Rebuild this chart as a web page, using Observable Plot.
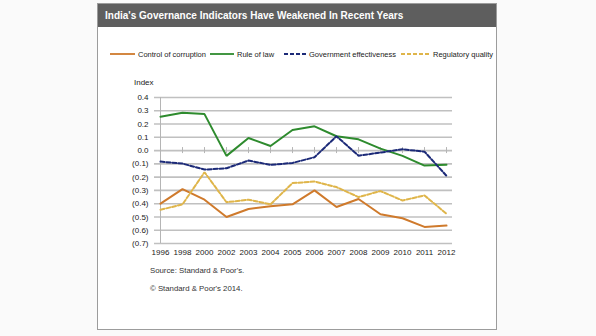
<!DOCTYPE html>
<html>
<head>
<meta charset="utf-8">
<script src="https://cdn.jsdelivr.net/npm/d3@7"></script>
<script src="https://cdn.jsdelivr.net/npm/@observablehq/plot@0.6"></script>
<style>
  html, body { margin: 0; padding: 0; }
  body { width: 596px; height: 336px; background: #fafafa; position: relative; overflow: hidden;
         font-family: "Liberation Sans", Arial, sans-serif; }
  #box { position: absolute; left: 97px; top: 3px; width: 398px; height: 325px; background: #fff;
         border: 1px solid #9c9c9c; }
  #titlebar { position: absolute; left: 0; top: 0; width: 398px; height: 23px; background: #5e5e5e; }
  #title { position: absolute; left: 7px; top: 6px; color: #fff; font-weight: bold; font-size: 10px; white-space: nowrap; }
  .abs { position: absolute; white-space: nowrap; }
  .legtxt { font-size: 7.5px; color: #222; }
  .src { font-size: 7.8px; color: #333; }
  #chart { position: absolute; left: 97px; top: 75px; }
</style>
</head>
<body>
<div id="box">
  <div id="titlebar"><div id="title">India's Governance Indicators  Have Weakened In Recent Years</div></div>
</div>
<div id="legend"></div>
<div class="abs src" style="left:134px; top:78px; font-size:8px; color:#222;">Index</div>
<div id="chart"></div>
<div class="abs src" style="left:150px; top:266px;">Source: Standard &amp; Poor's.</div>
<div class="abs src" style="left:150px; top:284px;">© Standard &amp; Poor's 2014.</div>
<script>
const years = ["1996","1998","2000","2002","2003","2004","2005","2006","2007","2008","2009","2010","2011","2012"];
const corruption = [-0.40, -0.29, -0.37, -0.50, -0.44, -0.42, -0.405, -0.30, -0.425, -0.365, -0.48, -0.51, -0.575, -0.565];
const ruleOfLaw  = [0.255, 0.285, 0.275, -0.04, 0.095, 0.035, 0.155, 0.183, 0.108, 0.085, 0.015, -0.04, -0.113, -0.107];
const govEff     = [-0.083, -0.098, -0.143, -0.133, -0.075, -0.108, -0.093, -0.05, 0.108, -0.038, -0.015, 0.01, -0.008, -0.19];
const regQual    = [-0.446, -0.405, -0.163, -0.389, -0.37, -0.405, -0.245, -0.233, -0.275, -0.35, -0.305, -0.376, -0.338, -0.476];
const seriesNames = ["Control of corruption", "Rule of law", "Government effectiveness", "Regulatory quality"];
const yTicks = [0.4, 0.3, 0.2, 0.1, 0.0, -0.1, -0.2, -0.3, -0.4, -0.5, -0.6, -0.7];

const values = [corruption, ruleOfLaw, govEff, regQual];
const colors = ["#cf7a2c", "#2e8b2e", "#1c2a78", "#dfb54a"];
const dashes = [null, null, "4,2", "4,2"];

const series = seriesNames.map((name, k) => ({
  name, color: colors[k], dash: dashes[k],
  data: years.map((y, i) => ({year: y, value: values[k][i]}))
}));

const fmt = d => Math.abs(d) < 1e-9 ? "0.0" : (d < 0 ? `(${(-d).toFixed(1)})` : d.toFixed(1));

const chart = Plot.plot({
  width: 400, height: 187,
  marginLeft: 57, marginRight: 45, marginTop: 22, marginBottom: 19,
  style: {fontFamily: "'Liberation Sans', Arial, sans-serif", fontSize: "8px", color: "#222", background: "transparent"},
  x: {type: "point", domain: years, padding: 0},
  y: {domain: [-0.7, 0.4]},
  marks: [
    Plot.ruleY(yTicks, {stroke: "#c0c0c0", strokeWidth: 1.6}),
    Plot.ruleX([years[0]], {stroke: "#b5b5b5", strokeWidth: 1}),
    Plot.ruleX(years, {x: d => d, y1: 0, y2: 0, insetTop: -3, insetBottom: -3, stroke: "#b5b5b5"}),
    Plot.axisY({ticks: yTicks, tickFormat: fmt, tickSize: 0, tickPadding: 6, label: null}),
    Plot.axisX({tickSize: 0, tickPadding: 6, label: null}),
    ...series.map(s => Plot.line(s.data, {
      x: "year", y: "value", stroke: s.color, strokeWidth: 2,
      strokeDasharray: s.dash, strokeLinejoin: "miter", curve: "linear"
    }))
  ]
});
document.getElementById("chart").appendChild(chart);

// legend
const legendPos = [[110, 135], [210, 234], [284, 306], [401, 430]];
const legend = document.getElementById("legend");
series.forEach((s, k) => {
  const [x0, x1] = legendPos[k];
  const sw = document.createElementNS("http://www.w3.org/2000/svg", "svg");
  sw.setAttribute("width", x1 - x0); sw.setAttribute("height", 6);
  sw.style.position = "absolute"; sw.style.left = x0 + "px"; sw.style.top = "51px";
  const ln = document.createElementNS("http://www.w3.org/2000/svg", "line");
  ln.setAttribute("x1", 0); ln.setAttribute("x2", x1 - x0); ln.setAttribute("y1", 3); ln.setAttribute("y2", 3);
  ln.setAttribute("stroke", s.color); ln.setAttribute("stroke-width", 1.8);
  if (s.dash) ln.setAttribute("stroke-dasharray", s.dash);
  sw.appendChild(ln);
  legend.appendChild(sw);
  const t = document.createElement("div");
  t.className = "abs legtxt"; t.textContent = s.name;
  t.style.left = (x1 + 3) + "px"; t.style.top = "49.5px";
  legend.appendChild(t);
});
</script>
</body>
</html>
